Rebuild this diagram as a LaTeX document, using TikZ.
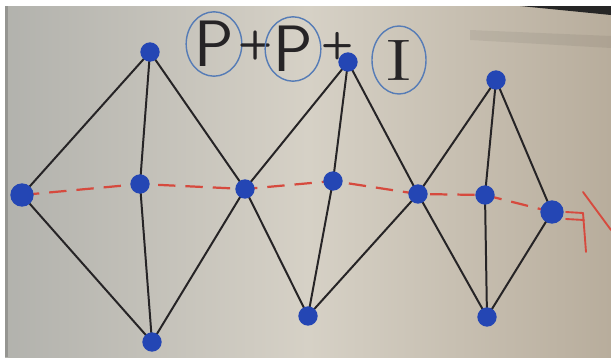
\documentclass[tikz,border=0pt]{standalone}
\usetikzlibrary{positioning,shapes.geometric,backgrounds}
\definecolor{markblue}{RGB}{36,70,180}
\definecolor{markred}{RGB}{214,74,62}
\definecolor{markink}{RGB}{38,36,38}
\definecolor{ringblue}{RGB}{86,124,182}
\definecolor{paperL}{RGB}{178,178,173}
\definecolor{paperM}{RGB}{214,209,198}
\definecolor{paperR}{RGB}{184,173,156}
\pgfdeclarelayer{paper}
\pgfsetlayers{paper,background,main}
\tikzset{
  bead/.style={circle, fill=markblue, inner sep=0pt, minimum size=0.58cm},
  bigbead/.style={bead, minimum size=0.7cm},
  wire/.style={markink, line width=1.7pt, line cap=round, line join=round},
  timeline/.style={markred, line width=1.9pt, dash pattern=on 0.52cm off 0.3cm},
  arrowink/.style={markred, line width=1.6pt, line cap=round},
  glyph/.style={text=markink, inner sep=0pt, font=\sffamily\fontsize{56}{56}\selectfont},
  letterring/.style={ellipse, draw=ringblue, line width=1.2pt, inner sep=0pt},
}
\begin{document}
\begin{tikzpicture}[x=0.03cm, y=-0.03cm]
        \useasboundingbox (0,0) rectangle (611,357);

        % Papel
        \begin{pgfonlayer}{paper}
          \fill[white] (0,0) rectangle (611,357);
          \shade[left color=paperL, right color=paperR, middle color=paperM] (5,6) rectangle (611,357);
          \fill[paperL!60!black, opacity=0.4] (5,6) rectangle (8,357);
          \fill[black!85] (520,6) -- (611,6) -- (611,15) -- cycle;
          \fill[black, opacity=0.06] (470,30) -- (611,36) -- (611,48) -- (470,40) -- cycle;
        \end{pgfonlayer}

        % Pontos
        \node[bigbead] (L) at (22,195) {};
        \node[bead] (T1) at (150,52) {};
        \node[bead] (M1) at (140,184) {};
        \node[bead] (B1) at (152,342) {};
        \node[bead] (C1) at (245,189) {};
        \node[bead] (T2) at (348,62) {};
        \node[bead] (M2) at (333,181) {};
        \node[bead] (B2) at (308,316) {};
        \node[bead] (C2) at (418,194) {};
        \node[bead] (T3) at (496,80) {};
        \node[bead] (M3) at (485,195) {};
        \node[bead] (B3) at (487,317) {};
        \node[bigbead] (R) at (552,212) {};

        \begin{pgfonlayer}{background}
          % Linha tracejada
          \draw[timeline] (L.center) -- (M1.center) -- (C1.center) -- (M2.center)
            -- (C2.center) -- (M3.center) -- (R.center);

          % Losangos
          \draw[wire] (L.center) -- (T1.center) -- (C1.center) -- (B1.center) -- cycle;
          \draw[wire] (T1.center) -- (M1.center) -- (B1.center);
          \draw[wire] (C1.center) -- (T2.center) -- (C2.center) -- (B2.center) -- cycle;
          \draw[wire] (T2.center) -- (M2.center) -- (B2.center);
          \draw[wire] (C2.center) -- (T3.center) -- (R.center) -- (B3.center) -- cycle;
          \draw[wire] (T3.center) -- (M3.center) -- (B3.center);
        \end{pgfonlayer}

        % Seta
        \draw[arrowink] (566,212) -- (583,213);
        \draw[arrowink] (566,219) -- (584,220);
        \draw[arrowink] (583,192) -- (611,230);
        \draw[arrowink] (583,213) -- (586,252);

        % P + P + I
        \node[glyph, letterring, minimum width=1.26cm, minimum height=1.92cm] (P1) at (214,44) {P};
        \node[glyph, font=\sffamily\bfseries\fontsize{34}{34}\selectfont] (plus1) at (256,46) {+};
        \node[glyph, letterring, minimum width=1.2cm, minimum height=1.86cm] (P2) at (293,49) {P};
        \node[glyph, font=\sffamily\bfseries\fontsize{32}{32}\selectfont] (plus2) at (338,46) {+};
        \node[glyph, letterring, font=\rmfamily\fontsize{50}{50}\selectfont,
              minimum width=1.62cm, minimum height=2.04cm] (I1) at (399,60) {\scalebox{1.5}[1]{I}};
    \end{tikzpicture}
\end{document}
